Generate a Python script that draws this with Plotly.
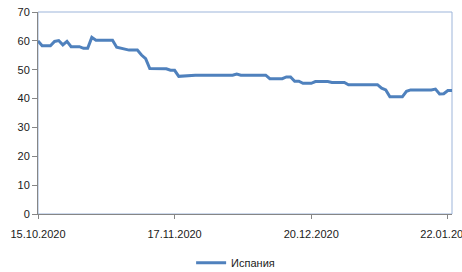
import pandas as pd
import plotly.graph_objects as go

start_date = "2020-10-15"
values = [
    60.0, 58.3, 58.3, 58.3, 59.8, 60.1, 58.6, 59.8, 58.0, 58.0,
    58.0, 57.4, 57.4, 61.2, 60.2, 60.2, 60.2, 60.2, 60.2, 57.8,
    57.5, 57.1, 56.8, 56.8, 56.8, 55.1, 53.8, 50.4, 50.4, 50.4,
    50.3, 50.3, 49.8, 49.8, 47.7, 47.8, 48.1, 48.1, 48.1, 48.1,
    48.1, 48.1, 48.1, 48.1, 48.1, 48.1, 48.1, 48.1, 48.5, 48.1,
    48.1, 48.1, 48.1, 48.1, 48.1, 48.1, 46.9, 46.9, 46.9, 46.9,
    47.5, 47.5, 46.0, 46.0, 45.3, 45.3, 45.3, 45.9, 45.9, 45.9,
    45.9, 45.6, 45.6, 45.6, 45.6, 44.8, 44.8, 44.8, 44.8, 44.8,
    44.8, 44.8, 44.8, 43.6, 43.0, 40.6, 40.6, 40.6, 40.6, 42.5,
    43.0, 43.0, 43.0, 43.0, 43.0, 43.0, 43.3, 41.6, 41.7, 42.8,
    42.8,
]
dates = pd.date_range(start_date, periods=len(values), freq="D")
series_name = "Испания"
x_tick_dates = ["2020-10-15", "2020-11-17", "2020-12-20", "2021-01-22"]
x_tick_labels = ["15.10.2020", "17.11.2020", "20.12.2020", "22.01.2021"]
y_ticks = [0, 10, 20, 30, 40, 50, 60, 70]

font = dict(family="Liberation Sans, Arial, sans-serif", size=11, color="#1a1a1a")

fig = go.Figure()
fig.add_trace(go.Scatter(
    x=dates, y=values, mode="lines", name=series_name,
    line=dict(color="#4F81BD", width=3),
))

fig.update_layout(
    width=462, height=272,
    margin=dict(l=38, r=10, t=12, b=58),
    paper_bgcolor="white", plot_bgcolor="white",
    font=font,
    showlegend=True,
    legend=dict(
        orientation="h", xref="container", yref="container",
        x=0.51, xanchor="center", y=0.034, yanchor="middle",
        font=font, itemwidth=30,
    ),
    shapes=[dict(
        type="rect", xref="paper", yref="paper", x0=0, x1=1, y0=0, y1=1,
        line=dict(color="#9DB5DA", width=1), layer="below",
    )],
)
fig.update_xaxes(
    type="date", range=[dates[0], dates[-1]],
    tickvals=x_tick_dates, ticktext=x_tick_labels,
    showgrid=False, zeroline=False, automargin=False,
    ticklabeloverflow="allow", ticklabelstandoff=6,
    showline=True, linecolor="#868686", linewidth=1,
    ticks="outside", ticklen=4, tickcolor="#868686",
)
fig.update_yaxes(
    range=[0, 70], tickvals=y_ticks,
    showgrid=False, zeroline=False, automargin=False,
    showline=True, linecolor="#868686", linewidth=1,
    ticks="outside", ticklen=5, tickcolor="#868686",
)

fig.write_html(
    "out.html",
    config={"displayModeBar": False},
    post_script="document.body.style.margin='0';document.body.style.overflow='hidden';",
)
